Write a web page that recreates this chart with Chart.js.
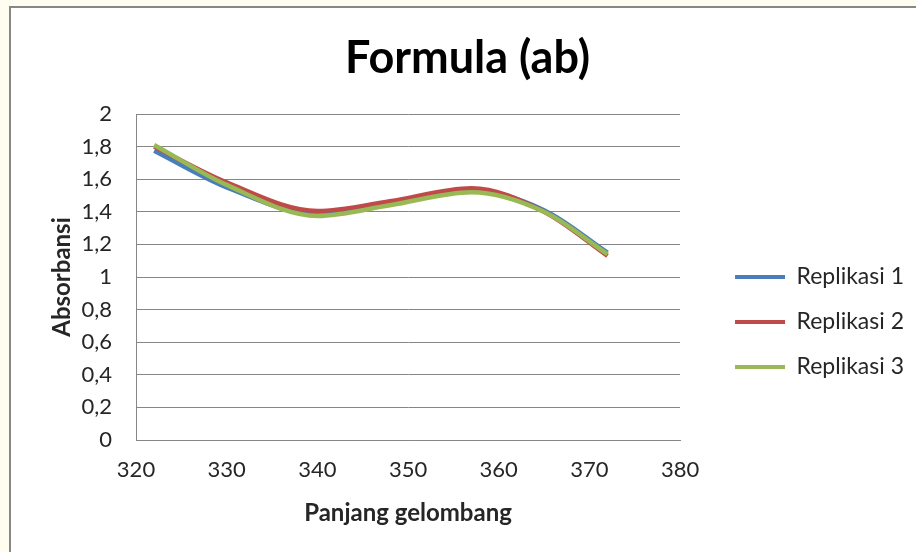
<!DOCTYPE html>
<html>
<head>
<meta charset="utf-8">
<script src="https://cdn.jsdelivr.net/npm/chart.js@4.4.1/dist/chart.umd.min.js"></script>
<style>
    html, body { margin: 0; padding: 0; background: #fffdf0; overflow: hidden; }
    #frame { position: absolute; left: 9px; top: 6px; width: 1000px; height: 1000px; background: #fff; border: 2px solid #878787; }
    #wrap { position: absolute; left: 0; top: 0; width: 916px; height: 552px; }
</style>
</head>
<body>
<div id="frame"></div>
<div id="wrap"><canvas id="absChart"></canvas></div>
<script>
// values
const wavelengths = [322, 330, 340, 348, 357, 365, 372];
const replikasi1 = [1.775, 1.55, 1.385, 1.45, 1.53, 1.41, 1.15];
const replikasi2 = [1.80, 1.58, 1.405, 1.465, 1.545, 1.40, 1.13];
const replikasi3 = [1.81, 1.565, 1.375, 1.44, 1.52, 1.40, 1.14];
const seriesNames = ['Replikasi 1', 'Replikasi 2', 'Replikasi 3'];
const seriesColors = ['#4a7ebb', '#be4b48', '#98b954'];
const xTickLabels = ['320', '330', '340', '350', '360', '370', '380'];
const yTickLabels = ['0', '0,2', '0,4', '0,6', '0,8', '1', '1,2', '1,4', '1,6', '1,8', '2'];

Chart.defaults.font.family = 'Lato';
Chart.defaults.color = '#262626';

const toPoints = (vals) => wavelengths.map((w, i) => ({ x: w, y: vals[i] }));
const allSeries = [replikasi1, replikasi2, replikasi3];

const datasets = allSeries.map((vals, i) => ({
    label: seriesNames[i],
    data: toPoints(vals),
    borderColor: seriesColors[i],
    backgroundColor: seriesColors[i],
    borderWidth: 4.5,
    pointRadius: 0,
    cubicInterpolationMode: 'monotone',
    order: 3 - i
}));

// legend sits a bit away from the plot, like the excel one
const placeLegend = {
    id: 'placeLegend',
    afterLayout(chart) {
        const area = chart.chartArea;
        const lg = chart.legend;
        const w = lg.width, h = lg.height;
        lg.left = area.right + 33;
        lg.right = lg.left + w;
        lg.top = area.top + 129.5;
        lg.bottom = lg.top + h;
        const t = chart.titleBlock;
        t.left = 0;
        t.right = 935;
    }
};

const baseLabels = Chart.defaults.plugins.legend.labels.generateLabels;

new Chart(document.getElementById('absChart'), {
    type: 'line',
    data: { datasets },
    options: {
        responsive: true,
        maintainAspectRatio: false,
        animation: false,
        layout: { padding: { left: 10, right: 35, top: 0, bottom: 0 } },
        plugins: {
            title: {
                display: true,
                text: 'Formula (ab)',
                color: '#000',
                font: { size: 45, weight: 'bold' },
                padding: { top: 31, bottom: 29 }
            },
            legend: {
                position: 'right',
                align: 'start',
                fullSize: false,
                labels: {
                    boxWidth: 50,
                    boxHeight: 4,
                    padding: 22,
                    font: { size: 23 },
                    sort: (a, b) => a.datasetIndex - b.datasetIndex,
                    generateLabels: (chart) => baseLabels(chart).map(l => ({ ...l, lineWidth: 0 }))
                }
            },
            tooltip: { enabled: false }
        },
        scales: {
            x: {
                type: 'linear',
                min: 320,
                max: 380,
                ticks: {
                    stepSize: 10,
                    padding: 16.8,
                    font: { size: 22 },
                    callback: (v, i) => xTickLabels[i]
                },
                grid: { display: false, drawTicks: false },
                border: { display: true, color: '#868686' },
                title: {
                    display: true,
                    text: 'Panjang gelombang',
                    font: { size: 24, weight: 'bold' },
                    padding: { top: 4, bottom: 24.6 }
                },
                afterFit: (scale) => { scale.height = 112; }
            },
            y: {
                min: 0,
                max: 2,
                ticks: {
                    stepSize: 0.2,
                    padding: 24,
                    font: { size: 22 },
                    callback: (v, i) => yTickLabels[i]
                },
                grid: { color: '#868686', drawTicks: false },
                border: { display: true, color: '#868686' },
                title: {
                    display: true,
                    text: 'Absorbansi',
                    font: { size: 24, weight: 'bold' },
                    padding: { top: 37.6, bottom: 4 }
                },
                afterFit: (scale) => { scale.width = 126; }
            }
        }
    },
    plugins: [placeLegend]
});
</script>
</body>
</html>
